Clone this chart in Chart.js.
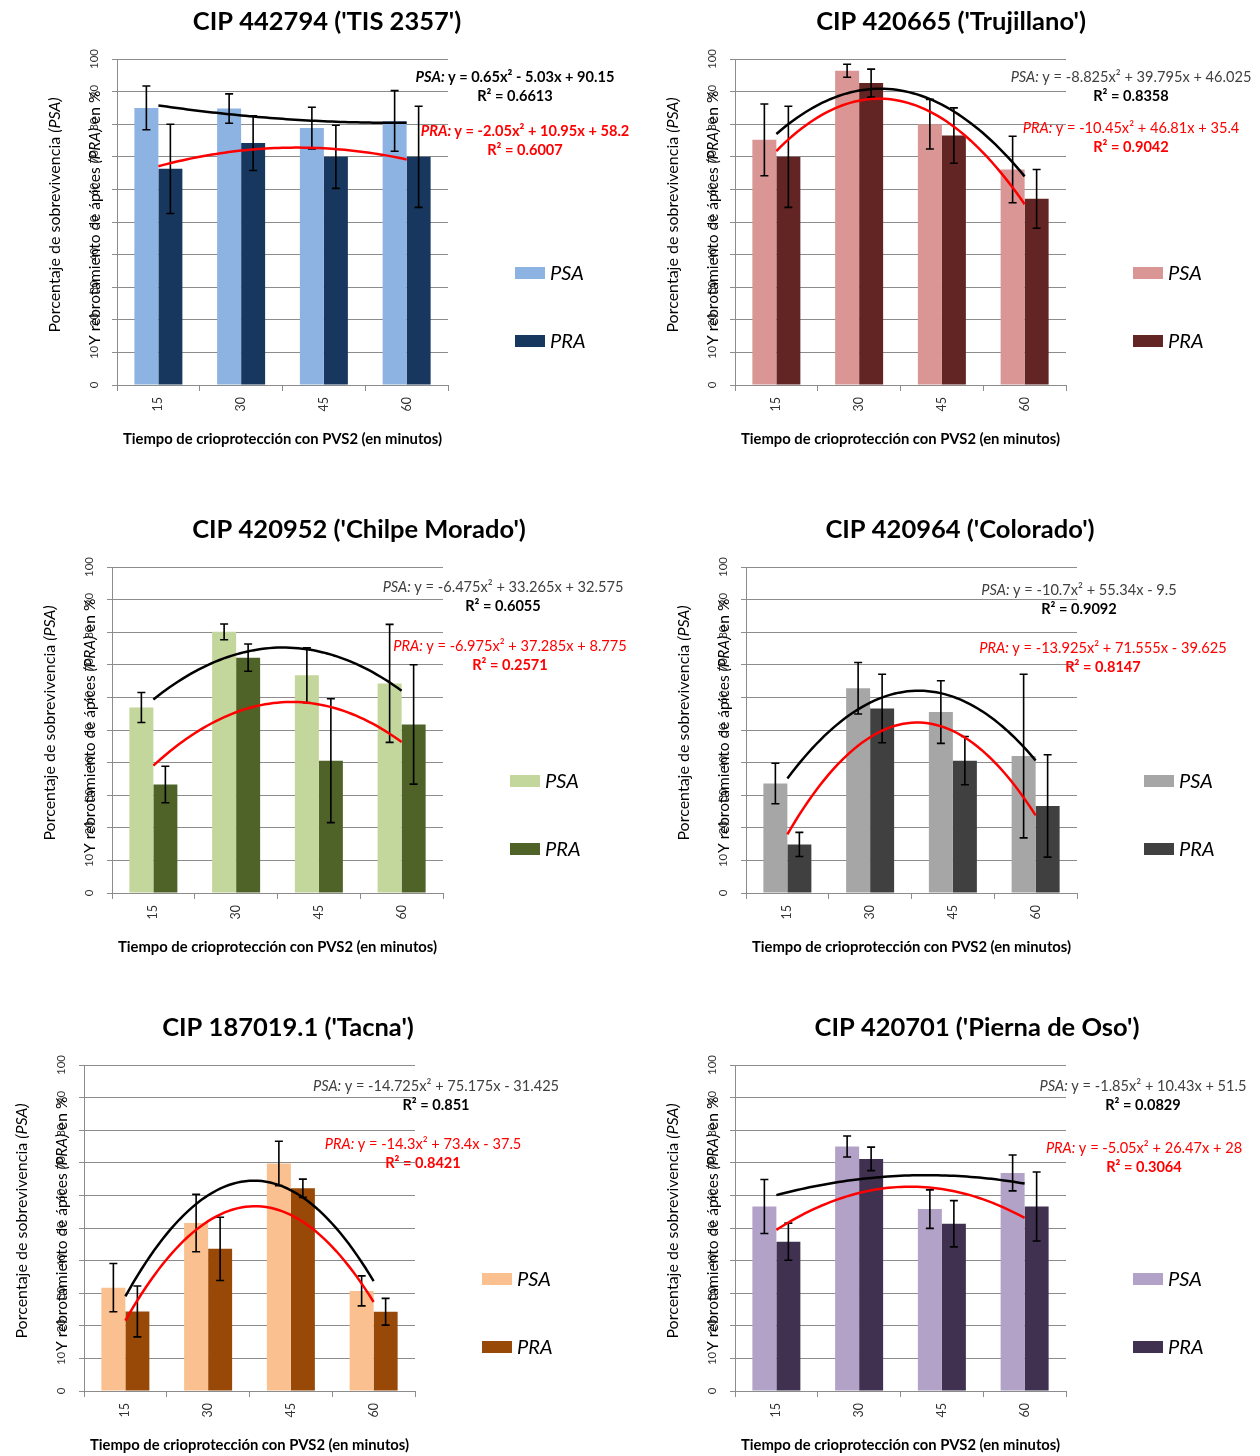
<!DOCTYPE html>
<html>
<head>
<meta charset="utf-8">
<script src="https://cdn.jsdelivr.net/npm/chart.js@4.4.1/dist/chart.umd.min.js"></script>
<style>
  html, body { margin: 0; padding: 0; background: #fff; overflow: hidden; }
  #page { position: relative; width: 1260px; height: 1456px; overflow: hidden; background: #fff; }
  #page canvas { position: absolute; }
</style>
</head>
<body>
<div id="page"></div>
<script>
// Cryoprotection time with PVS2 (minutes)
const categories = ['15', '30', '45', '60'];

const titles = [
  "CIP 442794 ('TIS 2357')",
  "CIP 420665 ('Trujillano')",
  "CIP 420952 ('Chilpe Morado')",
  "CIP 420964 ('Colorado')",
  "CIP 187019.1 ('Tacna')",
  "CIP 420701 ('Pierna de Oso')"
];

// Survival (PSA) and regrowth (PRA) percentages with their error margins
const psa1 = [85.0, 84.8, 78.8, 81.0];
const psa1Err = [6.7, 4.5, 6.4, 9.3];
const pra1 = [66.3, 74.2, 70.0, 70.0];
const pra1Err = [13.7, 8.4, 9.7, 15.5];

const psa2 = [75.2, 96.4, 80.0, 66.1];
const psa2Err = [11.0, 2.0, 7.6, 10.2];
const pra2 = [70.0, 92.6, 76.5, 57.1];
const pra2Err = [15.5, 4.3, 8.5, 9.0];

const psa3 = [56.9, 80.1, 66.8, 64.3];
const psa3Err = [4.6, 2.4, 8.4, 18.1];
const pra3 = [33.3, 72.2, 40.6, 51.7];
const pra3Err = [5.6, 4.2, 19.0, 18.3];

const psa4 = [33.6, 62.8, 55.5, 42.0];
const psa4Err = [6.2, 7.9, 9.6, 25.1];
const pra4 = [14.9, 56.6, 40.6, 26.7];
const pra4Err = [3.7, 10.5, 7.4, 15.7];

const psa5 = [31.7, 51.5, 69.8, 30.7];
const psa5Err = [7.4, 8.8, 6.8, 4.6];
const pra5 = [24.4, 43.6, 62.2, 24.3];
const pra5Err = [7.8, 9.7, 2.8, 4.1];

const psa6 = [56.6, 75.0, 55.8, 66.9];
const psa6Err = [8.3, 3.2, 5.9, 5.5];
const pra6 = [45.8, 71.2, 51.3, 56.6];
const pra6Err = [5.7, 3.6, 7.1, 10.6];

// Quadratic trendline coefficients [a, b, c] for y = a·x² + b·x + c (x = category number 1..4)
const psa1Fit = [0.65, -5.03, 90.15];
const pra1Fit = [-2.05, 10.95, 58.2];
const psa2Fit = [-8.825, 39.795, 46.025];
const pra2Fit = [-10.45, 46.81, 35.4];
const psa3Fit = [-6.475, 33.265, 32.575];
const pra3Fit = [-6.975, 37.285, 8.775];
const psa4Fit = [-10.7, 55.34, -9.5];
const pra4Fit = [-13.925, 71.555, -39.625];
const psa5Fit = [-14.725, 75.175, -31.425];
const pra5Fit = [-14.3, 73.4, -37.5];
const psa6Fit = [-1.85, 10.43, 51.5];
const pra6Fit = [-5.05, 26.47, 28];

const psaR2 = [0.6613, 0.8358, 0.6055, 0.9092, 0.851, 0.0829];
const praR2 = [0.6007, 0.9042, 0.2571, 0.8147, 0.8421, 0.3064];

// ---- presentation ----
const FONT = 'Lato, "Open Sans", sans-serif';
const colors = [
  ['#8DB3E2', '#17375E'],
  ['#D99694', '#632523'],
  ['#C3D69B', '#4F6228'],
  ['#A6A6A6', '#404040'],
  ['#FAC090', '#984807'],
  ['#B3A2C7', '#403151']
];
const panels = [
  { L: 0,   T: 0,    W: 654, plotL: 117, plotR: 448,  eq: [515, 77, 525, 131],   leg: 515,  bold: true },
  { L: 642, T: 0,    W: 618, plotL: 735, plotR: 1066, eq: [1131, 77, 1131, 128], leg: 1133 },
  { L: 0,   T: 508,  W: 718, plotL: 112, plotR: 443,  eq: [503, 587, 510, 646],  leg: 510 },
  { L: 660, T: 508,  W: 600, plotL: 746, plotR: 1077, eq: [1079, 590, 1103, 648], leg: 1144 },
  { L: 0,   T: 1006, W: 576, plotL: 84,  plotR: 415,  eq: [436, 1086, 423, 1144], leg: 482 },
  { L: 660, T: 1006, W: 634, plotL: 735, plotR: 1066, eq: [1143, 1086, 1144, 1148], leg: 1133 }
];
const H = 460, PLOT_TOP = 59, PLOT_BOTTOM = 385;

const series = [
  [psa1, psa1Err, pra1, pra1Err, psa1Fit, pra1Fit],
  [psa2, psa2Err, pra2, pra2Err, psa2Fit, pra2Fit],
  [psa3, psa3Err, pra3, pra3Err, psa3Fit, pra3Fit],
  [psa4, psa4Err, pra4, pra4Err, psa4Fit, pra4Fit],
  [psa5, psa5Err, pra5, pra5Err, psa5Fit, pra5Fit],
  [psa6, psa6Err, pra6, pra6Err, psa6Fit, pra6Fit]
];

// Evaluate a fitted quadratic from the first to the last category.
// Points are given in the category scale's index units (category n sits at n - 1).
function fitCurve(c) {
  const pts = [];
  for (let i = 0; i <= 60; i++) {
    const n = 1 + i * 3 / 60;
    pts.push({ x: n - 1, y: c[0] * n * n + c[1] * n + c[2] });
  }
  return pts;
}

function fmtEq(c) {
  const term = (v, s) => (v < 0 ? ' - ' : ' + ') + Math.abs(v) + s;
  return 'y = ' + c[0] + 'x²' + term(c[1], 'x') + term(c[2], '');
}

// Text made of differently styled runs, optionally rotated to read bottom-to-top
function drawRuns(ctx, runs, x, y, align, rotate) {
  ctx.save();
  ctx.translate(x, y);
  if (rotate) ctx.rotate(-Math.PI / 2);
  let total = 0;
  runs.forEach(r => { ctx.font = r.font; r.w = ctx.measureText(r.text).width; total += r.w; });
  let cx = align === 'center' ? -total / 2 : (align === 'right' ? -total : 0);
  ctx.textBaseline = 'middle';
  ctx.textAlign = 'left';
  runs.forEach(r => { ctx.font = r.font; ctx.fillStyle = r.color; ctx.fillText(r.text, cx, 0); cx += r.w; });
  ctx.restore();
}

// Error bars on every bar, drawn right after each bar dataset
const errorBars = {
  id: 'errorBars',
  afterDatasetDraw(chart, args) {
    const ds = chart.data.datasets[args.index];
    if (!ds.errors) return;
    const y = chart.scales.y;
    const ctx = chart.ctx;
    ctx.save();
    ctx.strokeStyle = '#000';
    ctx.lineWidth = 1.6;
    args.meta.data.forEach((bar, j) => {
      const v = ds.data[j], e = ds.errors[j];
      const yt = y.getPixelForValue(v + e), yb = y.getPixelForValue(v - e);
      ctx.beginPath();
      ctx.moveTo(bar.x, yt); ctx.lineTo(bar.x, yb);
      ctx.moveTo(bar.x - 4, yt); ctx.lineTo(bar.x + 4, yt);
      ctx.moveTo(bar.x - 4, yb); ctx.lineTo(bar.x + 4, yb);
      ctx.stroke();
    });
    ctx.restore();
  }
};

// Axis titles, trendline equations and the legend
const annotations = {
  id: 'annotations',
  afterDraw(chart, args, o) {
    const ctx = chart.ctx;
    const p = o.panel, i = o.index;
    const ax = p.plotL - p.L;
    const mid = (PLOT_TOP + PLOT_BOTTOM) / 2;
    const tf = '16px ' + FONT;
    drawRuns(ctx, [
      { text: 'Porcentaje de sobrevivencia ', font: tf, color: '#000' },
      { text: '(PSA)', font: 'italic ' + tf, color: '#000' }
    ], ax - 62, mid - 7, 'center', true);
    // second title line ends just above the "10" tick label
    const tf2 = '15.5px ' + FONT;
    drawRuns(ctx, [
      { text: 'Y rebrotamiento de ápices ', font: tf2, color: '#000' },
      { text: '(PRA)', font: 'italic ' + tf2, color: '#000' },
      { text: ' en %', font: tf2, color: '#000' }
    ], ax - 22, PLOT_BOTTOM - 40, 'left', true);

    const w = p.bold ? 'bold ' : '';
    const psaCol = p.bold ? '#000' : '#404040';
    const ef = '14.6px ' + FONT;
    const ex1 = p.eq[0] - p.L, ey1 = p.eq[1] - p.T, ex2 = p.eq[2] - p.L, ey2 = p.eq[3] - p.T;
    drawRuns(ctx, [
      { text: 'PSA: ', font: 'italic ' + w + ef, color: psaCol },
      { text: fmtEq(o.fits[0]), font: w + ef, color: psaCol }
    ], ex1, ey1, 'center', false);
    drawRuns(ctx, [{ text: 'R² = ' + psaR2[i], font: 'bold ' + ef, color: '#000' }], ex1, ey1 + 19, 'center', false);
    drawRuns(ctx, [
      { text: 'PRA: ', font: 'italic ' + w + ef, color: '#FF0000' },
      { text: fmtEq(o.fits[1]), font: w + ef, color: '#FF0000' }
    ], ex2, ey2, 'center', false);
    drawRuns(ctx, [{ text: 'R² = ' + praR2[i], font: 'bold ' + ef, color: '#FF0000' }], ex2, ey2 + 19, 'center', false);

    const lx = p.leg - p.L;
    chart.data.datasets.filter(d => d.type === 'bar').forEach((d, k) => {
      const ly = 273 + k * 68;
      ctx.fillStyle = d.backgroundColor;
      ctx.fillRect(lx, ly - 6, 30, 12);
      drawRuns(ctx, [{ text: d.label, font: 'italic 20px ' + FONT, color: '#000' }], lx + 35, ly + 1, 'left', false);
    });
  }
};

const page = document.getElementById('page');
panels.forEach((p, i) => {
  const canvas = document.createElement('canvas');
  canvas.width = p.W; canvas.height = H;
  canvas.style.left = p.L + 'px'; canvas.style.top = p.T + 'px';
  canvas.style.width = p.W + 'px'; canvas.style.height = H + 'px';
  page.appendChild(canvas);

  const [psa, psaErr, pra, praErr, psaFit, praFit] = series[i];
  const leftW = p.plotL - p.L;
  const rightW = p.L + p.W - p.plotR;
  const grid = '#8C8C8C';

  new Chart(canvas, {
    type: 'bar',
    data: {
      labels: categories,
      datasets: [
        { type: 'bar', label: 'PSA', data: psa, errors: psaErr, backgroundColor: colors[i][0],
          stack: 'psa', order: 2, categoryPercentage: 0.58, barPercentage: 1 },
        { type: 'bar', label: 'PRA', data: pra, errors: praErr, backgroundColor: colors[i][1],
          stack: 'pra', order: 2, categoryPercentage: 0.58, barPercentage: 1 },
        { type: 'line', label: 'PSA trend', data: fitCurve(psaFit), parsing: false, stack: 'psa',
          borderColor: '#000', borderWidth: 2.5, pointRadius: 0, fill: false, order: 1 },
        { type: 'line', label: 'PRA trend', data: fitCurve(praFit), parsing: false, stack: 'pra',
          borderColor: '#FF0000', borderWidth: 2.5, pointRadius: 0, fill: false, order: 1 }
      ]
    },
    options: {
      responsive: false,
      animation: false,
      devicePixelRatio: 1,
      layout: { padding: 0 },
      plugins: {
        legend: { display: false },
        tooltip: { enabled: false },
        title: {
          display: true, text: titles[i], color: '#000',
          font: { family: FONT, size: 25.5, weight: 'bold', lineHeight: 1.2 },
          padding: { top: 6.7, bottom: 21.7 }
        },
        annotations: { panel: p, index: i, fits: [psaFit, praFit] }
      },
      scales: {
        x: {
          type: 'category', position: 'bottom', offset: true,
          grid: { offset: true, drawOnChartArea: false, drawTicks: true, tickLength: 6, color: grid },
          border: { color: grid },
          ticks: { minRotation: 90, maxRotation: 90, padding: 6, color: '#333', font: { family: FONT, size: 12.5 } },
          title: { display: true, text: 'Tiempo de crioprotección con PVS2 (en minutos)', color: '#000',
                   font: { family: FONT, size: 14.8, weight: 'bold' }, padding: { top: 0, bottom: 12 } },
          afterFit: s => { s.height = H - PLOT_BOTTOM; }
        },
        y: {
          type: 'linear', position: 'left', min: 0, max: 100, stacked: false,
          grid: { color: grid, tickLength: 5 },
          border: { color: grid },
          ticks: { stepSize: 10, minRotation: 90, maxRotation: 90, crossAlign: 'center', padding: 8,
                   color: '#333', font: { family: FONT, size: 11.5 } },
          afterFit: s => { s.width = leftW; }
        },
        yr: {
          type: 'linear', position: 'right', display: true,
          ticks: { display: false }, grid: { display: false }, border: { display: false },
          afterFit: s => { s.width = rightW; }
        }
      }
    },
    plugins: [errorBars, annotations]
  });
});
</script>
</body>
</html>
